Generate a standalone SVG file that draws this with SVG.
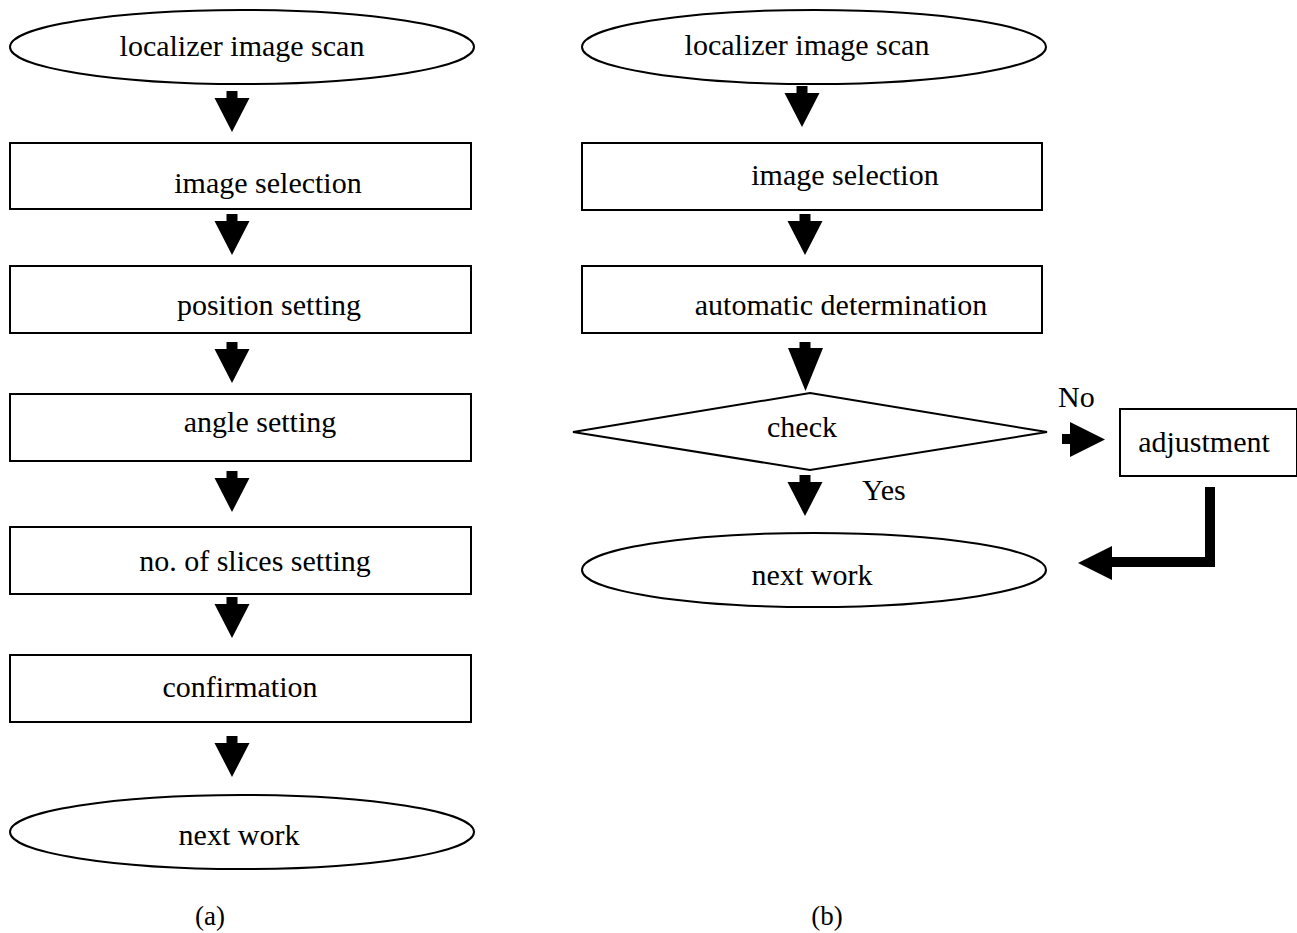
<svg xmlns="http://www.w3.org/2000/svg" xmlns:xlink="http://www.w3.org/1999/xlink" width="1297" height="933" viewBox="0 0 1297 933">
<style>
.shape{fill:#fff;stroke:#000;stroke-width:2}
.t{font-family:"Liberation Serif","Times New Roman",serif;font-size:30px;fill:#000;text-anchor:middle}
.ts{font-family:"Liberation Serif","Times New Roman",serif;font-size:30px;fill:#000}
.cap{font-family:"Liberation Serif","Times New Roman",serif;font-size:27px;fill:#000;text-anchor:middle}
.arr{fill:#000;stroke:none}
</style>
<defs>
<path id="down" d="M-5.5,0 H5.5 V7 H17.5 L0,41 L-17.5,7 H-5.5 Z"/>
</defs>
<rect width="1297" height="933" fill="#fff"/>
<g id="a-start"><ellipse class="shape" cx="242" cy="47" rx="232" ry="37"/><text class="t" x="242" y="56">localizer image scan</text></g>
<g id="a-image-selection"><rect class="shape" x="10" y="143" width="461" height="66"/><text class="t" x="268" y="193">image selection</text></g>
<g id="a-position"><rect class="shape" x="10" y="266" width="461" height="67"/><text class="t" x="269" y="315">position setting</text></g>
<g id="a-angle"><rect class="shape" x="10" y="394" width="461" height="67"/><text class="t" x="260" y="432">angle setting</text></g>
<g id="a-slices"><rect class="shape" x="10" y="527" width="461" height="67"/><text class="t" x="255" y="571">no. of slices setting</text></g>
<g id="a-confirmation"><rect class="shape" x="10" y="655" width="461" height="67"/><text class="t" x="240" y="697">confirmation</text></g>
<g id="a-next"><ellipse class="shape" cx="242" cy="832" rx="232" ry="37"/><text class="t" x="239" y="845">next work</text></g>
<g id="label-a"><text class="cap" x="210" y="925">(a)</text></g>
<g id="b-start"><ellipse class="shape" cx="814" cy="47" rx="232" ry="37"/><text class="t" x="807" y="55">localizer image scan</text></g>
<g id="b-image-selection"><rect class="shape" x="582" y="143" width="460" height="67"/><text class="t" x="845" y="185">image selection</text></g>
<g id="b-auto"><rect class="shape" x="582" y="266" width="460" height="67"/><text class="t" x="841" y="315">automatic determination</text></g>
<g id="b-check"><polygon class="shape" points="810,393 1047,432 810,470 573,432"/><text class="t" x="802" y="437">check</text></g>
<g id="b-next"><ellipse class="shape" cx="814" cy="570" rx="232" ry="37"/><text class="t" x="812" y="585">next work</text></g>
<g id="b-adjust"><rect class="shape" x="1120" y="409" width="177" height="67"/><text class="t" x="1204" y="452">adjustment</text></g>
<g id="label-b"><text class="cap" x="827" y="925">(b)</text></g>
<g id="connectors">
<use href="#down" xlink:href="#down" class="arr" x="232" y="91"/>
<use href="#down" xlink:href="#down" class="arr" x="232" y="214"/>
<use href="#down" xlink:href="#down" class="arr" x="232" y="342"/>
<use href="#down" xlink:href="#down" class="arr" x="232" y="471"/>
<use href="#down" xlink:href="#down" class="arr" x="232" y="597"/>
<use href="#down" xlink:href="#down" class="arr" x="232" y="736"/>
<use href="#down" xlink:href="#down" class="arr" x="802" y="86"/>
<use href="#down" xlink:href="#down" class="arr" x="805" y="214"/>
<path class="arr" d="M799.5,342 H810.5 V348 H823 L805.5,391 L788,348 H799.5 Z"/>
<use href="#down" xlink:href="#down" class="arr" x="805" y="475"/>
<path class="arr" d="M1062,434 H1070 V422 L1105,439.5 L1070,457 V444 H1062 Z"/>
<path d="M1210,487 V562 H1110" fill="none" stroke="#000" stroke-width="10"/>
<polygon class="arr" points="1112,546 1078,563 1112,580"/>
<text class="ts" x="862" y="500">Yes</text>
<text class="ts" x="1058" y="407">No</text>
</g>
</svg>
